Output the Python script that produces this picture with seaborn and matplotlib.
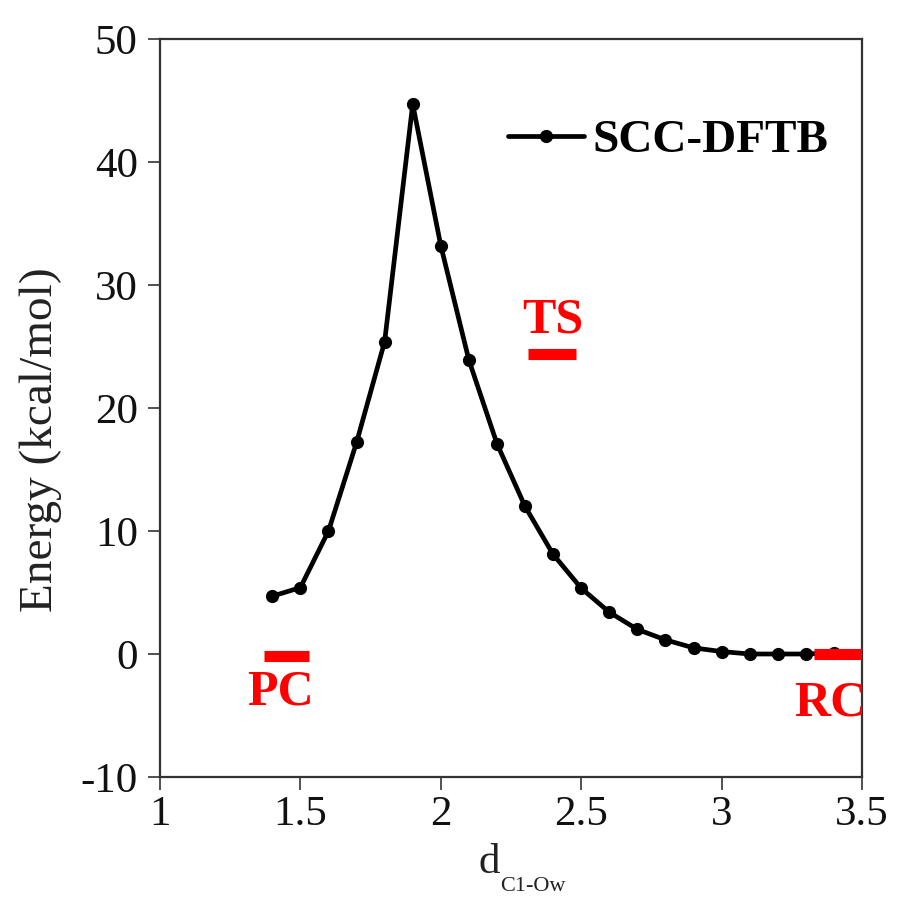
import numpy as np
import pandas as pd
import matplotlib
matplotlib.use("Agg")
import matplotlib.pyplot as plt
import seaborn as sns

# Data
d_c1_ow = [1.4, 1.5, 1.6, 1.7, 1.8, 1.9, 2.0, 2.1, 2.2, 2.3, 2.4,
           2.5, 2.6, 2.7, 2.8, 2.9, 3.0, 3.1, 3.2, 3.3, 3.4]
energy = [4.7, 5.4, 10.0, 17.2, 25.4, 44.7, 33.2, 23.9, 17.1, 12.0, 8.1,
          5.35, 3.4, 2.0, 1.15, 0.5, 0.2, 0.0, 0.0, 0.0, 0.1]

# Stationary point markers (red bars) and their labels
state_labels = ["PC", "TS", "RC"]
state_x0 = [1.37, 2.31, 3.33]
state_x1 = [1.53, 2.48, 3.55]
state_y = [-0.2, 24.4, 0.0]
label_x = [1.43, 2.40, 3.26]
label_y = [-4.1, 26.1, -5.0]
label_ha = ["center", "center", "left"]

x_ticks = [1, 1.5, 2, 2.5, 3, 3.5]
x_ticklabels = ["1", "1.5", "2", "2.5", "3", "3.5"]
y_ticks = [-10, 0, 10, 20, 30, 40, 50]

df = pd.DataFrame({"d": d_c1_ow, "E": energy})

sns.set_style("ticks")
plt.rcParams['font.family'] = ['Liberation Serif', 'DejaVu Serif']
plt.rcParams['axes.unicode_minus'] = False
plt.rcParams['text.color'] = 'black'
plt.rcParams['xtick.labelcolor'] = '#111111'
plt.rcParams['ytick.labelcolor'] = '#111111'

fig = plt.figure(figsize=(9, 9.01), dpi=100)
ax = fig.add_axes([160 / 900, 1 - 777 / 901, 702 / 900, 738 / 901])

sns.lineplot(data=df, x="d", y="E", ax=ax, color="black", linewidth=3.4,
             marker="o", markersize=9.5, markeredgewidth=0,
             label="SCC-DFTB", zorder=3)

# red bars and labels
for lab, x0, x1, y, lx, ly, ha in zip(state_labels, state_x0, state_x1, state_y,
                                      label_x, label_y, label_ha):
    ax.plot([x0, x1], [y, y], color="red", linewidth=8,
            solid_capstyle="butt", zorder=4)
    ax.text(lx, ly, lab, color="red", fontsize=36, fontweight="bold",
            ha=ha, va="baseline", clip_on=True, zorder=4)

ax.set_xlim(1, 3.5)
ax.set_ylim(-10, 50)
ax.set_xticks(x_ticks)
ax.set_xticklabels(x_ticklabels)
ax.set_yticks(y_ticks)
ax.tick_params(axis="both", which="major", labelsize=31, length=9,
               width=1.2, direction="out", color="#333333", pad=4)
ax.tick_params(axis="y", pad=7)
for s in ax.spines.values():
    s.set_linewidth(1.6)
    s.set_color("#333333")

ax.set_xlabel("")
ax.set_ylabel("")

# axis titles
fig.text(41 / 900, 1 - 440 / 901, "Energy (kcal/mol)", rotation=90,
         fontsize=34, ha="center", va="center", color="#222222")
fig.text(489 / 900, 1 - 873 / 901, "d", fontsize=31, ha="center",
         va="baseline", color="#222222")
fig.text(500 / 900, 1 - 891 / 901, "C1-Ow", fontsize=16, ha="left",
         va="baseline", color="#222222")

leg = ax.legend(loc="center left", bbox_to_anchor=(0.496, 0.862),
                frameon=False, borderpad=0, borderaxespad=0,
                handlelength=1.6, handletextpad=0.18,
                prop={"size": 34, "weight": "bold"})

fig.savefig("out.png", dpi=100)
